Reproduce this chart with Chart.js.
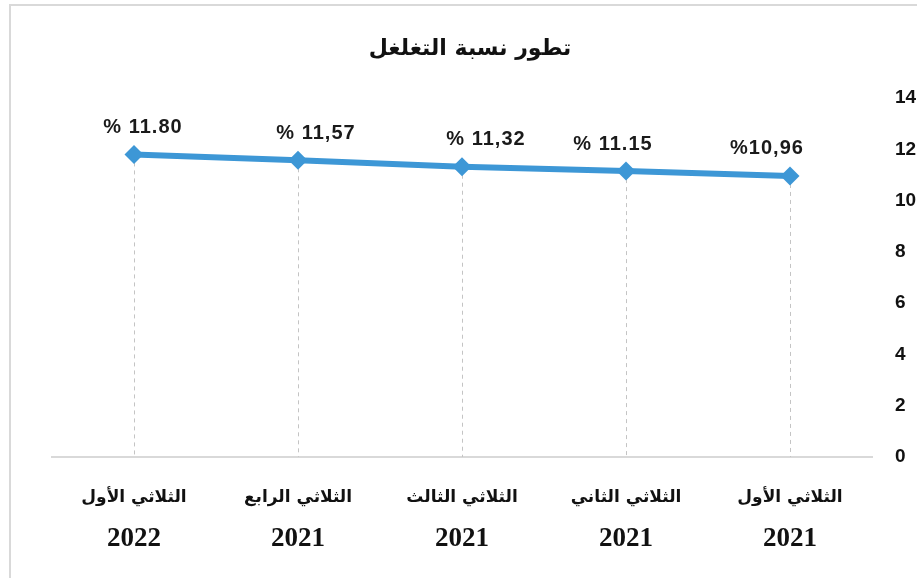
<!DOCTYPE html>
<html lang="ar">
<head>
<meta charset="utf-8">
<script src="https://cdn.jsdelivr.net/npm/chart.js@4.4.1/dist/chart.umd.min.js"></script>
<style>
  html, body { margin: 0; padding: 0; background: #fff; overflow: hidden; }
  .frame { position: absolute; left: 9px; top: 4px; width: 1000px; height: 700px;
           border-left: 2px solid #d9d9d9; border-top: 2px solid #d9d9d9; }
  .wrap { position: absolute; left: 0; top: 0; width: 940px; height: 578px; }
  .title { position: absolute; left: 0; top: 33px; width: 940px; text-align: center;
           font: bold 22px/30px "DejaVu Sans", sans-serif; color: #111; direction: rtl; }
</style>
</head>
<body>
<div class="frame"></div>
<div class="wrap"><canvas id="penetrationChart" width="940" height="578"></canvas></div>
<div class="title">تطور نسبة التغلغل</div>
<script>
// data (first quarter 2021 sits on the right)
const quarters = ["الثلاثي الأول", "الثلاثي الثاني", "الثلاثي الثالث", "الثلاثي الرابع", "الثلاثي الأول"];
const years = ["2021", "2021", "2021", "2021", "2022"];
const penetration = [10.96, 11.15, 11.32, 11.57, 11.80];
const valueLabels = ["%10,96", "% 11.15", "% 11,32", "% 11,57", "% 11.80"];
const yTicks = [0, 2, 4, 6, 8, 10, 12, 14];

const lineColor = "#3d97d6";

// dashed drop lines from each point down to the axis
const dropLines = {
  id: "dropLines",
  beforeDatasetsDraw: (chart) => {
    const ctx = chart.ctx;
    const meta = chart.getDatasetMeta(0);
    ctx.save();
    ctx.setLineDash([4, 4]);
    ctx.lineWidth = 1;
    ctx.strokeStyle = "#c4c4c4";
    meta.data.forEach((pt) => {
      ctx.beginPath();
      ctx.moveTo(Math.round(pt.x) + 0.5, pt.y);
      ctx.lineTo(Math.round(pt.x) + 0.5, chart.chartArea.bottom);
      ctx.stroke();
    });
    ctx.restore();
  },
};

// value labels above the points
const labelShift = [-23, -13, 24, 18, 9];
const pointLabels = {
  id: "pointLabels",
  afterDatasetsDraw: (chart) => {
    const ctx = chart.ctx;
    const meta = chart.getDatasetMeta(0);
    ctx.save();
    ctx.font = "bold 20px 'Liberation Sans', Arial, sans-serif";
    ctx.letterSpacing = "1px";
    ctx.fillStyle = "#1a1a1a";
    ctx.textAlign = "center";
    ctx.textBaseline = "middle";
    meta.data.forEach((pt, i) => {
      ctx.fillText(valueLabels[i], pt.x + labelShift[i], pt.y - 27);
    });
    ctx.restore();
  },
};

const ctx = document.getElementById("penetrationChart").getContext("2d");
new Chart(ctx, {
  type: "line",
  data: {
    labels: quarters,
    datasets: [
      {
        label: "نسبة التغلغل",
        data: penetration,
        xAxisID: "x",
        yAxisID: "y",
        borderColor: lineColor,
        backgroundColor: lineColor,
        borderWidth: 6,
        tension: 0,
        pointStyle: "rectRot",
        pointRadius: 9.5,
        pointHoverRadius: 9.5,
        pointBorderWidth: 0,
      },
    ],
  },
  plugins: [dropLines, pointLabels],
  options: {
    responsive: false,
    animation: false,
    layout: { padding: { left: 52, right: 8, top: 98, bottom: 6 } },
    plugins: {
      legend: { display: false },
      tooltip: { enabled: false },
      title: { display: false },
    },
    scales: {
      x: {
        type: "category",
        labels: quarters,
        reverse: true,
        offset: true,
        position: "bottom",
        grid: { display: false, drawTicks: false },
        border: { display: true, color: "#d9d9d9", width: 2 },
        ticks: {
          color: "#111",
          padding: 30,
          maxRotation: 0,
          autoSkip: false,
          font: { family: "'DejaVu Sans', 'Liberation Sans', sans-serif", size: 17, weight: "bold" },
        },
        afterFit: (scale) => { scale.height = 60; },
      },
      x2: {
        type: "category",
        labels: years,
        reverse: true,
        offset: true,
        position: "bottom",
        grid: { display: false, drawTicks: false },
        border: { display: false },
        ticks: {
          color: "#111",
          padding: 6,
          maxRotation: 0,
          autoSkip: false,
          font: { family: "'Liberation Serif', 'Times New Roman', serif", size: 27, weight: "bold" },
        },
        afterFit: (scale) => { scale.height = 55; },
      },
      y: {
        position: "right",
        min: yTicks[0],
        max: yTicks[yTicks.length - 1],
        grid: { display: false, drawTicks: false },
        border: { display: false },
        afterBuildTicks: (scale) => { scale.ticks = yTicks.map((v) => ({ value: v })); },
        ticks: {
          color: "#111",
          padding: 23,
          font: { family: "'Liberation Sans', Arial, sans-serif", size: 19, weight: "bold" },
        },
        afterFit: (scale) => { scale.width = 60; },
      },
    },
  },
});
</script>
</body>
</html>
